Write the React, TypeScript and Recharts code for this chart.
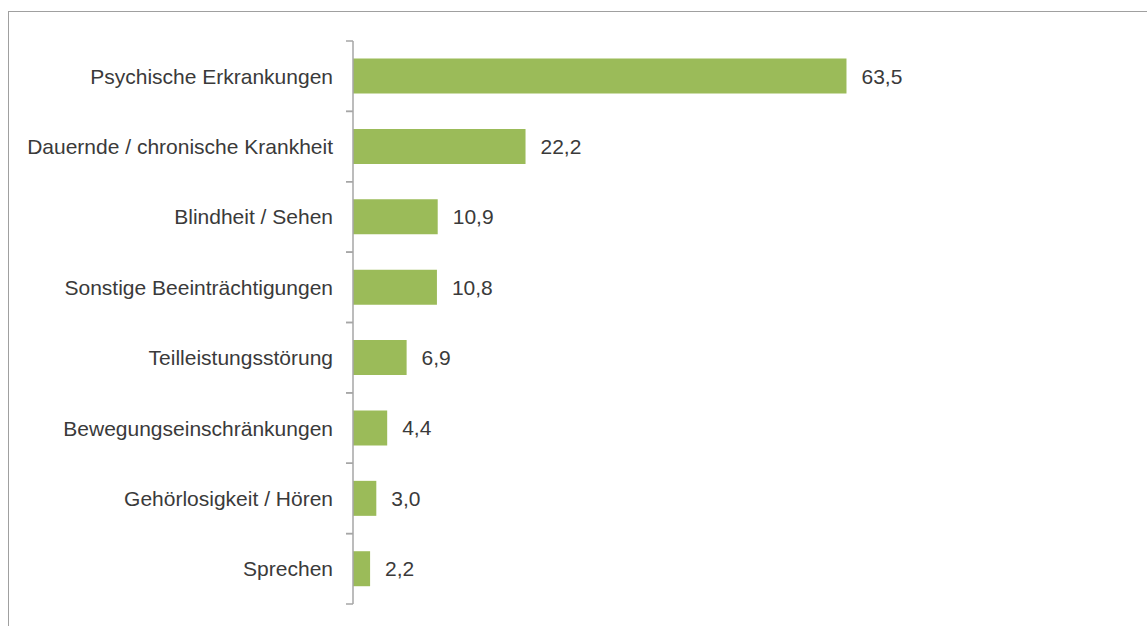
import React from "react";
import { BarChart, Bar, XAxis, YAxis, LabelList } from "recharts";

const categories = [
  "Psychische Erkrankungen",
  "Dauernde / chronische Krankheit",
  "Blindheit / Sehen",
  "Sonstige Beeinträchtigungen",
  "Teilleistungsstörung",
  "Bewegungseinschränkungen",
  "Gehörlosigkeit / Hören",
  "Sprechen",
];
const values = [63.5, 22.2, 10.9, 10.8, 6.9, 4.4, 3.0, 2.2];

const data = categories.map((name, i) => ({ name, value: values[i] }));

const FONT = "'Liberation Sans', Arial, sans-serif";
const AXIS = "#a6a6a6";
const TEXT = "#3a3a3a";

const CatTick = (props: any) => {
  const { x, y, payload } = props;
  const off = payload && typeof payload.offset === "number" ? payload.offset : 0;
  return (
    <g>
      <text
        x={x - 20}
        y={y}
        textAnchor="end"
        dominantBaseline="central"
        fontFamily={FONT}
        fontSize={21}
        fill={TEXT}
      >
        {payload.value}
      </text>
      <line x1={x - 7} x2={x} y1={y - off} y2={y - off} stroke={AXIS} strokeWidth={1.5} />
      <line x1={x - 7} x2={x} y1={y + off} y2={y + off} stroke={AXIS} strokeWidth={1.5} />
    </g>
  );
};

export default function App() {
  return (
    <div
      style={{
        position: "absolute",
        left: 8,
        top: 11,
        width: 1139,
        height: 615,
        boxSizing: "border-box",
        borderTop: "1px solid #a0a0a0",
        borderLeft: "1px solid #a0a0a0",
        overflow: "hidden",
        background: "#fff",
      }}
    >
      <BarChart
        layout="vertical"
        width={1100}
        height={600}
        data={data}
        margin={{ top: 29, right: 212, bottom: 8, left: 0 }}
        barCategoryGap="25%"
      >
        <XAxis type="number" domain={[0, 70]} hide />
        <YAxis
          type="category"
          dataKey="name"
          width={344}
          tickLine={false}
          tickSize={0}
          tickMargin={0}
          axisLine={{ stroke: AXIS, strokeWidth: 1.5 }}
          tick={<CatTick />}
          interval={0}
        />
        <Bar dataKey="value" fill="#9bbb59" isAnimationActive={false}>
          <LabelList
            dataKey="value"
            position="right"
            offset={15}
            formatter={(v: any) => Number(v).toFixed(1).replace(".", ",")}
            style={{ fontFamily: FONT, fontSize: 21, fill: TEXT }}
          />
        </Bar>
      </BarChart>
    </div>
  );
}
